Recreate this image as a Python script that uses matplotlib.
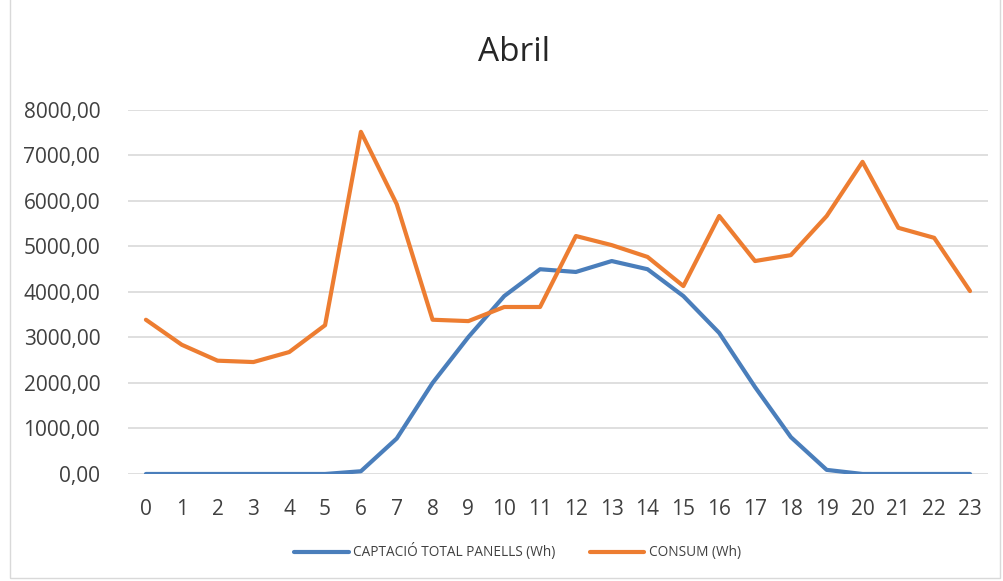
#imports
import matplotlib
matplotlib.use("Agg")
import matplotlib.pyplot as plt
from matplotlib.patches import Rectangle
from matplotlib.ticker import FuncFormatter


#data
hores = list(range(24))
captacio = [0, 0, 0, 0, 0, 0, 60, 780, 2000, 3010, 3910, 4500, 4440, 4680,
            4500, 3910, 3100, 1910, 810, 90, 0, 0, 0, 0]
consum = [3390, 2840, 2490, 2460, 2680, 3270, 7520, 5930, 3390, 3360, 3670,
          3670, 5230, 5030, 4770, 4130, 5670, 4680, 4810, 5670, 6860, 5410,
          5190, 4020]
y_ticks = [0, 1000, 2000, 3000, 4000, 5000, 6000, 7000, 8000]

plt.rcParams['font.family'] = ['Open Sans', 'DejaVu Sans']

fig = plt.figure(figsize=(10.04, 5.81), dpi=100)
ax = fig.add_axes([0.1275, 0.1842, 0.8565, 0.6265])

ax.plot(hores, captacio, color='#4A7EBB', lw=3, label='CAPTACIÓ TOTAL PANELLS (Wh)',
        solid_capstyle='round', solid_joinstyle='round')
ax.plot(hores, consum, color='#ED7D31', lw=3, label='CONSUM (Wh)',
        solid_capstyle='round', solid_joinstyle='round')

ax.set_xlim(-0.5, 23.5)
ax.set_ylim(0, 8000)
ax.set_xticks(hores)
ax.set_yticks(y_ticks)
ax.yaxis.set_major_formatter(FuncFormatter(lambda v, p: f"{v:.2f}".replace('.', ',')))
ax.tick_params(length=0, labelsize=15, colors='#404040')
ax.tick_params(axis='y', pad=20)
ax.tick_params(axis='x', pad=18)
ax.grid(axis='y', color='#D9D9D9', lw=1.2)
ax.set_axisbelow(True)
for s in ax.spines.values():
    s.set_visible(False)

fig.text(0.512, 0.91, 'Abril', ha='center', va='center', fontsize=24, color='#262626')

ax.legend(loc='center', bbox_to_anchor=(0.453, -0.214), ncol=2, frameon=False,
          fontsize=9.8, labelcolor='#404040', handlelength=4.0, columnspacing=2.5,
          handletextpad=0.35)

# chart border
fig.patches.append(Rectangle((10 / 1004, 3 / 581), 990 / 1004, 1.1, transform=fig.transFigure,
                             fill=False, edgecolor='#D9D9D9', lw=1))

fig.savefig('out.png', dpi=100)
